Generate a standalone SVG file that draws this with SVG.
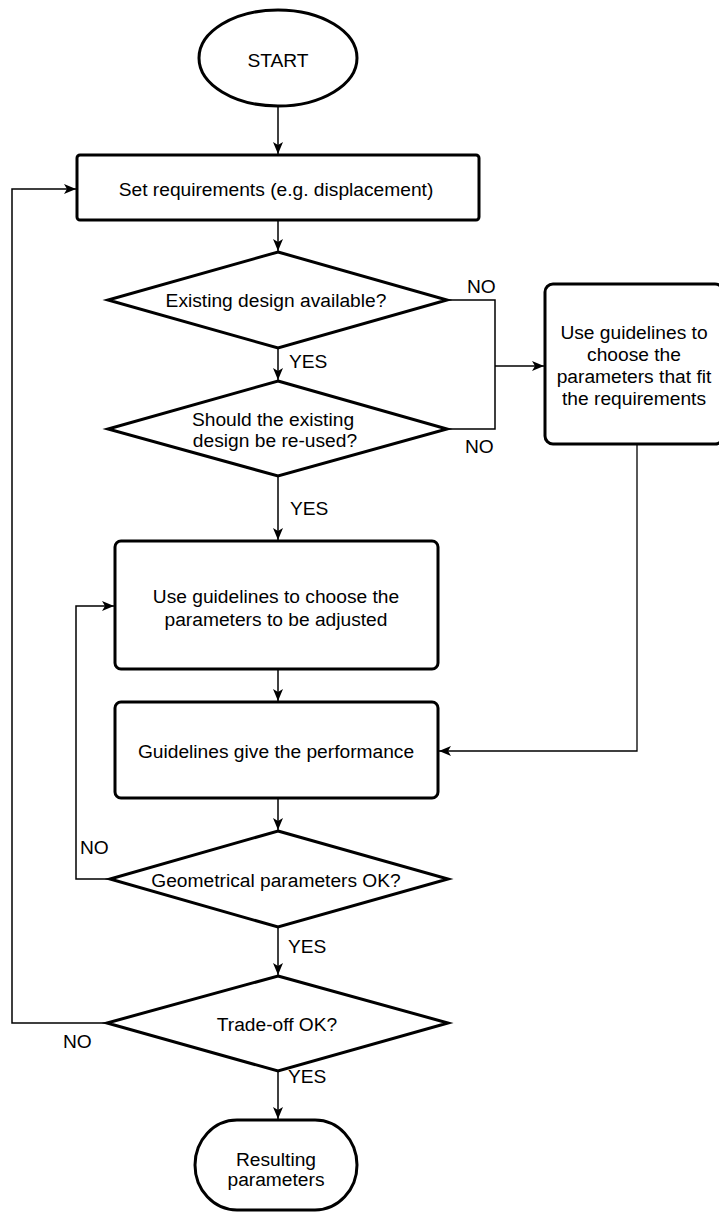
<svg xmlns="http://www.w3.org/2000/svg" width="719" height="1214" viewBox="0 0 719 1214">
<style>
.n{fill:#fff;stroke:#000;stroke-width:3}
.c{fill:none;stroke:#000;stroke-width:1.5}
.t{font-family:"Liberation Sans",Arial,sans-serif;font-size:19.2px;fill:#000;text-anchor:middle}
.l{font-family:"Liberation Sans",Arial,sans-serif;font-size:19.2px;fill:#000}
</style>
<defs>
<marker id="a" markerUnits="userSpaceOnUse" markerWidth="14" markerHeight="12" refX="12" refY="5" orient="auto">
<path d="M0,0 L12,5 L0,10 L3,5 z" fill="#000"/>
</marker>
</defs>
<rect width="719" height="1214" fill="#fff"/>
<g id="connectors">
<path class="c" d="M278,107 V154" marker-end="url(#a)"/>
<path class="c" d="M278,220 V251" marker-end="url(#a)"/>
<path class="c" d="M278,348 V380" marker-end="url(#a)"/>
<path class="c" d="M278,476 V540" marker-end="url(#a)"/>
<path class="c" d="M278,669 V701" marker-end="url(#a)"/>
<path class="c" d="M278,798 V830" marker-end="url(#a)"/>
<path class="c" d="M278,927 V975" marker-end="url(#a)"/>
<path class="c" d="M278,1071 V1119" marker-end="url(#a)"/>
<path class="c" d="M447,300 H495 V429 H447"/>
<path class="c" d="M495,366 H544" marker-end="url(#a)"/>
<path class="c" d="M637,444 V751 H439" marker-end="url(#a)" style="stroke-width:1.3"/>
<path class="c" d="M110,879 H76 V606 H114" marker-end="url(#a)"/>
<path class="c" d="M107,1023 H12 V189 H76" marker-end="url(#a)"/>
</g>
<g id="start">
<ellipse class="n" cx="278" cy="58" rx="79" ry="48"/>
<text class="t" x="278" y="67">START</text>
</g>
<g id="set-requirements">
<rect class="n" x="77" y="155" width="402" height="65" rx="3"/>
<text class="t" x="276" y="196">Set requirements (e.g. displacement)</text>
</g>
<g id="existing-design">
<polygon class="n" points="278,252 447,300 278,348 108,300"/>
<text class="t" x="276" y="307">Existing design available?</text>
</g>
<g id="reuse">
<polygon class="n" points="278,381 447,429 278,476 108,429"/>
<text class="t" x="273" y="426">Should the existing</text>
<text class="t" x="275" y="447">design be re-used?</text>
</g>
<g id="guidelines-fit">
<rect class="n" x="545" y="284" width="178" height="160" rx="8"/>
<text class="t" x="634" y="339">Use guidelines to</text>
<text class="t" x="634" y="361">choose the</text>
<text class="t" x="634" y="383">parameters that fit</text>
<text class="t" x="634" y="405">the requirements</text>
</g>
<g id="guidelines-adjust">
<rect class="n" x="115" y="541" width="323" height="128" rx="6"/>
<text class="t" x="276" y="603">Use guidelines to choose the</text>
<text class="t" x="276" y="626">parameters to be adjusted</text>
</g>
<g id="performance">
<rect class="n" x="115" y="702" width="323" height="96" rx="6"/>
<text class="t" x="276" y="758">Guidelines give the performance</text>
</g>
<g id="geometrical">
<polygon class="n" points="278,831 448,879 278,927 110,879"/>
<text class="t" x="276" y="887">Geometrical parameters OK?</text>
</g>
<g id="tradeoff">
<polygon class="n" points="278,976 448,1023 278,1071 107,1023"/>
<text class="t" x="277" y="1031">Trade-off OK?</text>
</g>
<g id="result">
<rect class="n" x="195" y="1120" width="162" height="90" rx="42" ry="45"/>
<text class="t" x="276" y="1166">Resulting</text>
<text class="t" x="276" y="1186">parameters</text>
</g>
<g id="labels">
<text class="l" x="289" y="368">YES</text>
<text class="l" x="467" y="293">NO</text>
<text class="l" x="465" y="453">NO</text>
<text class="l" x="290" y="515">YES</text>
<text class="l" x="80" y="854">NO</text>
<text class="l" x="288" y="953">YES</text>
<text class="l" x="63" y="1048">NO</text>
<text class="l" x="288" y="1083">YES</text>
</g>
</svg>
